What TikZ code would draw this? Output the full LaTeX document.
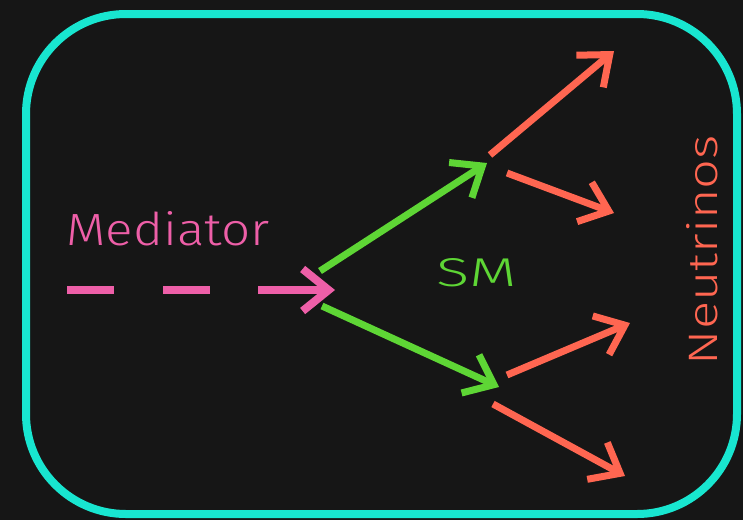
\documentclass[tikz,border=0pt]{standalone}
\usepackage{fontspec}
\setmainfont{Fira Sans}[UprightFont=* Light]
\usetikzlibrary{arrows.meta}
\definecolor{bgdark}{HTML}{161616}
\definecolor{frameturq}{HTML}{18E6D0}
\definecolor{medpink}{HTML}{EE5FA8}
\definecolor{smgreen}{HTML}{5ED635}
\definecolor{nured}{HTML}{FF6651}
\tikzset{
  tipv/.style={-{Straight Barb[length=26pt,width=42pt]}},
  medline/.style={draw=medpink, line width=8pt, tipv, dash pattern=on 47pt off 49pt on 47pt off 48pt on 200pt off 1pt},
  smline/.style={draw=smgreen, line width=7pt, tipv},
  nuline/.style={draw=nured, line width=7pt, tipv},
  lbl/.style={inner sep=0pt, anchor=center}
}
\begin{document}
\begin{tikzpicture}[x=1pt,y=-1pt]
\fill[bgdark] (0,0) rectangle (743,520);
\useasboundingbox (0,0) rectangle (743,520);
\draw[frameturq, line width=8pt, rounded corners=100pt] (26,14) rectangle (737,514);
% coordinates
\coordinate (m0) at (67,290);
\coordinate (mt) at (335,290);
\coordinate (g0a) at (320,271);
\coordinate (g1) at (487,163);
\coordinate (g0b) at (322,306);
\coordinate (g2) at (499,387);
\coordinate (r1s) at (490,155);
\coordinate (r1t) at (614,51);
\coordinate (r2s) at (507,173);
\coordinate (r2t) at (614,213);
\coordinate (r3s) at (507,375);
\coordinate (r3t) at (630,323);
\coordinate (r4s) at (493,404);
\coordinate (r4t) at (625,476);
% arrows
\draw[medline] (m0) -- (mt);
\draw[smline] (g0a) -- (g1);
\draw[smline] (g0b) -- (g2);
\draw[nuline] (r1s) -- (r1t);
\draw[nuline] (r2s) -- (r2t);
\draw[nuline] (r3s) -- (r3t);
\draw[nuline] (r4s) -- (r4t);
% labels
\node[lbl, text=medpink] (med) at (168,229) {\resizebox{203pt}{34pt}{Mediator}};
\node[lbl, text=smgreen] (sm) at (477,273) {\resizebox{80pt}{28pt}{SM}};
\node[lbl, text=nured, rotate=90] (nu) at (702,250) {\resizebox{230pt}{31pt}{Neutrinos}};
\end{tikzpicture}
\end{document}
